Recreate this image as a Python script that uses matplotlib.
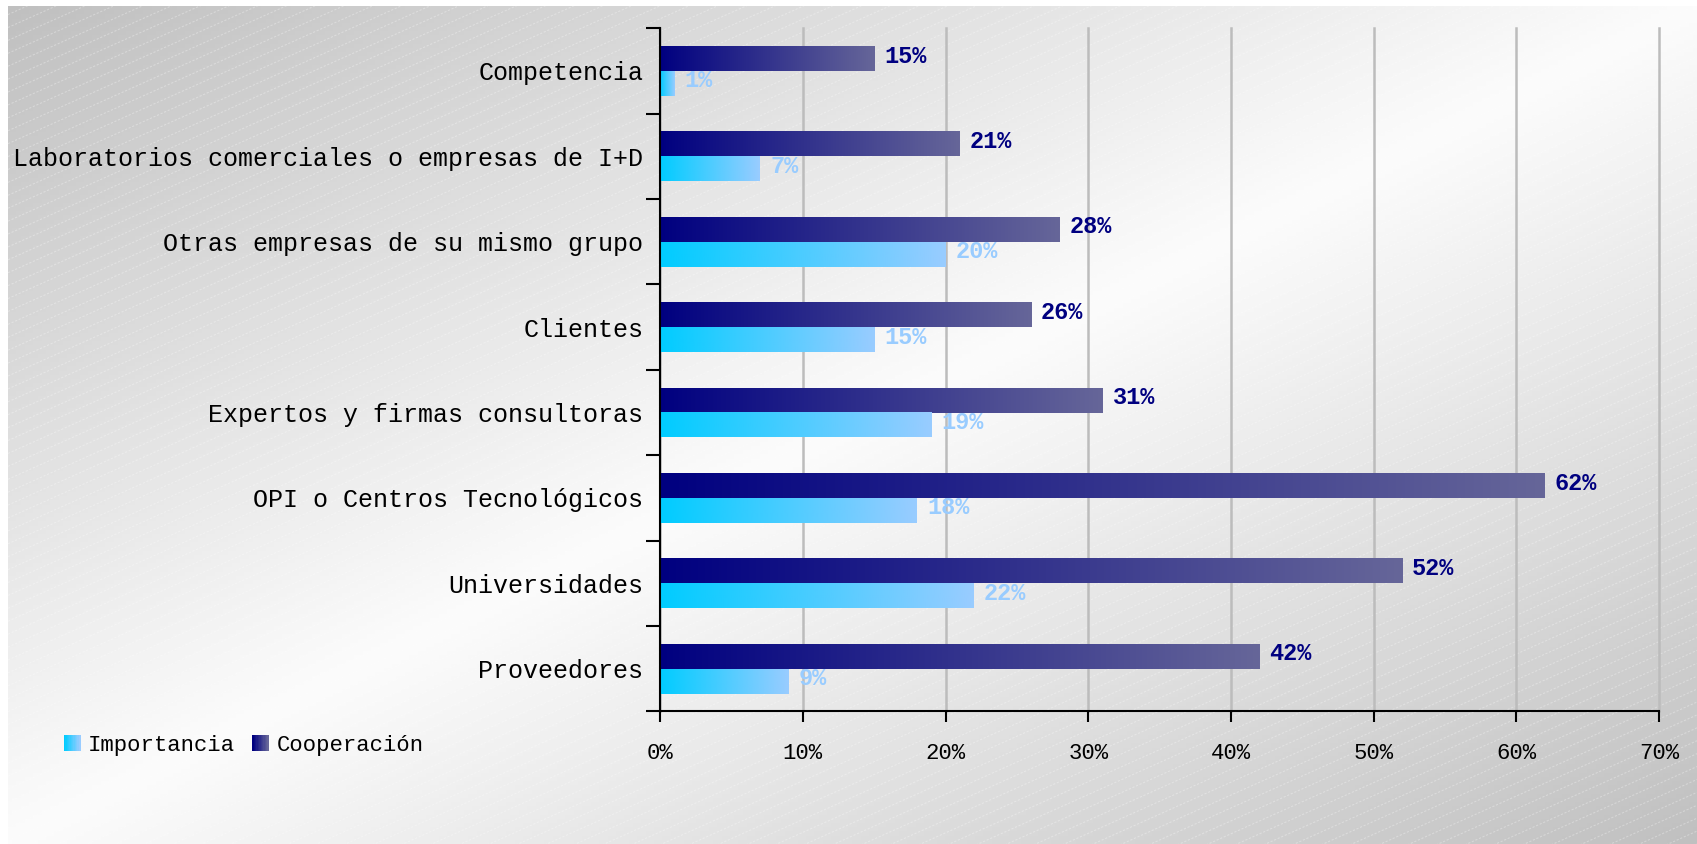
import numpy as np
import matplotlib
matplotlib.use("Agg")
import matplotlib.pyplot as plt
from matplotlib.patches import Rectangle
from matplotlib.legend_handler import HandlerBase
from matplotlib.collections import LineCollection
from matplotlib.ticker import FuncFormatter

# datos (de abajo hacia arriba)
categorias = ["Proveedores", "Universidades", "OPI o Centros Tecnológicos",
              "Expertos y firmas consultoras", "Clientes",
              "Otras empresas de su mismo grupo",
              "Laboratorios comerciales o empresas de I+D", "Competencia"]
importancia = [9, 22, 18, 19, 15, 20, 7, 1]
cooperacion = [42, 52, 62, 31, 26, 28, 21, 15]
xticks = [0, 10, 20, 30, 40, 50, 60, 70]

FONT = "Liberation Mono"
imp_c0, imp_c1 = "#00ccff", "#99ccff"
coop_c0, coop_c1 = "#000080", "#666699"


def gradient(c0, c1, n=256):
    a = np.array(matplotlib.colors.to_rgb(c0))
    b = np.array(matplotlib.colors.to_rgb(c1))
    t = np.linspace(0, 1, n)[:, None]
    return (a + (b - a) * t)[None, :, :]


class GradientHandler(HandlerBase):
    def __init__(self, c0, c1):
        super().__init__()
        self.c0, self.c1 = c0, c1

    def create_artists(self, legend, orig_handle, xdescent, ydescent,
                       width, height, fontsize, trans):
        n = 12
        cols = gradient(self.c0, self.c1, n)[0]
        out = []
        for i in range(n):
            r = Rectangle((-xdescent + i * width / n, -ydescent), width / n + 0.3, height,
                          facecolor=cols[i], edgecolor="none", transform=trans)
            out.append(r)
        return out


fig = plt.figure(figsize=(16.97, 8.44), dpi=100)

# fondo degradado con rayas diagonales (en pixeles)
W, H = 1697, 844
bg = fig.add_axes([8 / W, 0, 1 - 8 / W, 1 - 6 / H], zorder=-10)
ny, nx = 200, 400
xx, yy = np.meshgrid(np.linspace(0, 1, nx), np.linspace(0, 1, ny))
u = xx - (1 - yy)
val = (252 - 60 * np.abs(u)) / 255
bg.imshow(np.dstack([val, val, val]), extent=(0, W, 0, H), aspect="auto", origin="upper")
segs = []
for c in np.arange(-0.45 * W, H + 13, 13):
    segs.append([(0, c), (W, c + 0.45 * W)])
bg.add_collection(LineCollection(segs, colors="white", linewidths=0.8, alpha=0.3,
                                 linestyles=(0, (2, 1.5))))
bg.set_xlim(0, W)
bg.set_ylim(0, H)
bg.axis("off")

ax = fig.add_axes([0.389, 0.157, 0.9776 - 0.389, 0.9665 - 0.157])
ax.patch.set_alpha(0)

y = np.arange(len(categorias))
h = 0.29
bars_c = ax.barh(y + 0.5 + h / 2, cooperacion, height=h, facecolor="none", edgecolor="none")
bars_i = ax.barh(y + 0.5 - h / 2, importancia, height=h, facecolor="none", edgecolor="none")

for bars, c0, c1 in [(bars_c, coop_c0, coop_c1), (bars_i, imp_c0, imp_c1)]:
    for p in bars:
        x0, y0, w, hh = p.get_x(), p.get_y(), p.get_width(), p.get_height()
        ax.imshow(gradient(c0, c1), extent=(x0, x0 + w, y0, y0 + hh),
                  aspect="auto", zorder=3, interpolation="bilinear")

for i in range(len(categorias)):
    ax.text(cooperacion[i] + 0.7, y[i] + 0.5 + h / 2 + 0.03, f"{cooperacion[i]}%",
            color="#000080", fontsize=17, fontweight="bold", family=FONT,
            va="center", ha="left", zorder=4)
    ax.text(importancia[i] + 0.7, y[i] + 0.5 - h / 2 + 0.03, f"{importancia[i]}%",
            color="#99ccff", fontsize=17, fontweight="bold", family=FONT,
            va="center", ha="left", zorder=4)

ax.set_xlim(0, 70)
ax.set_ylim(0, len(categorias))
ax.set_xticks(xticks)
ax.xaxis.set_major_formatter(FuncFormatter(lambda v, p: f"{v:.0f}%"))
ax.set_yticks(y + 0.5)
ax.set_yticklabels(categorias)
ax.set_yticks(np.arange(len(categorias) + 1), minor=True)
ax.tick_params(axis="y", which="major", length=0, pad=12, labelsize=18)
ax.tick_params(axis="y", which="minor", length=10, width=1.5, direction="out")
ax.tick_params(axis="x", length=8, width=1.5, direction="out", pad=15, labelsize=16)
for lab in ax.get_yticklabels() + ax.get_xticklabels():
    lab.set_family(FONT)

ax.grid(axis="x", color="#bcbcbc", linewidth=1.8)
for gl in ax.get_xgridlines():
    gl.set_clip_on(False)
ax.set_axisbelow(True)
for s in ["top", "right"]:
    ax.spines[s].set_visible(False)
for s in ["left", "bottom"]:
    ax.spines[s].set_linewidth(1.5)
    ax.spines[s].set_zorder(5)

h_imp = Rectangle((0, 0), 1, 1)
h_coop = Rectangle((0, 0), 1, 1)
fig.legend([h_imp, h_coop], ["Importancia", "Cooperación"],
           handler_map={h_imp: GradientHandler(imp_c0, imp_c1),
                        h_coop: GradientHandler(coop_c0, coop_c1)},
           loc="center left", bbox_to_anchor=(0.0377, 0.117), ncol=2, frameon=False,
           prop={"family": FONT, "size": 16}, handlelength=0.73, handleheight=0.77,
           handletextpad=0.36, columnspacing=0.77, borderpad=0, borderaxespad=0)

fig.savefig("out.png", dpi=100)
